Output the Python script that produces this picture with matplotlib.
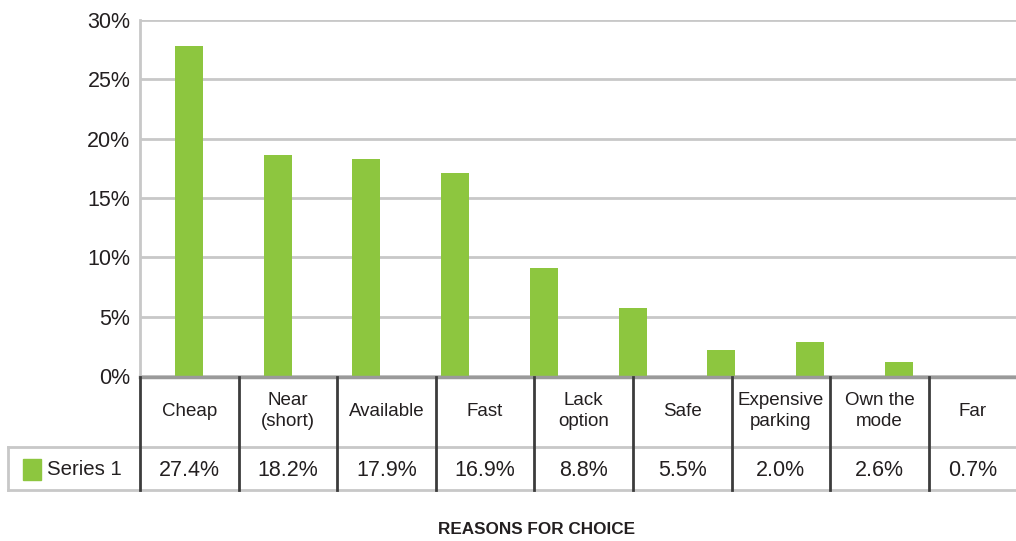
import matplotlib
matplotlib.use("Agg")
import matplotlib.pyplot as plt
from matplotlib.patches import Rectangle

# data
categories = ["Cheap", "Near\n(short)", "Available", "Fast", "Lack\noption",
              "Safe", "Expensive\nparking", "Own the\nmode", "Far"]
bar_values = [27.8, 18.6, 18.3, 17.1, 9.1, 5.7, 2.2, 2.9, 1.2]
table_values = ["27.4%", "18.2%", "17.9%", "16.9%", "8.8%", "5.5%", "2.0%", "2.6%", "0.7%"]
yticks = [0, 5, 10, 15, 20, 25, 30]
series_name = "Series 1"
xlabel = "REASONS FOR CHOICE"

GREEN = "#8dc63f"
TEXT = "#231f20"
LIGHT = "#c8c8c8"
DARK = "#3c3c3c"
plt.rcParams["font.family"] = ["Liberation Sans", "DejaVu Sans"]

W, H = 1016, 541
fig = plt.figure(figsize=(W / 100, H / 100), dpi=100)

# bar plot area (pixels converted to figure fractions)
left, right, top, bottom = 140, 1016, 20, 376
ax = fig.add_axes([left / W, 1 - bottom / H, (right - left) / W, (bottom - top) / H])
x = list(range(len(bar_values)))
ax.bar(x, bar_values, width=0.315, color=GREEN, zorder=3)
ax.set_xlim(-0.55, 9.32)
ax.set_ylim(0, 30)
ax.set_yticks(yticks)
ax.set_yticklabels([f"{v}%" for v in yticks], fontsize=15.5, color=TEXT)
ax.tick_params(axis="y", length=0, pad=7)
ax.set_xticks([])
ax.grid(axis="y", color=LIGHT, linewidth=2, zorder=0)
for s in ["top", "right", "bottom"]:
    ax.spines[s].set_visible(False)
ax.spines["left"].set_color(LIGHT)
ax.spines["left"].set_linewidth(2)

# data table drawn in pixel coordinates on an overlay
ov = fig.add_axes([0, 0, 1, 1])
ov.set_xlim(0, W)
ov.set_ylim(H, 0)
ov.axis("off")

col_w = 98.6
edges = [left + col_w * i for i in range(len(categories) + 1)]
head_top, head_bot, row_bot = 377, 447, 490
series_left = 8

# horizontal lines
ov.plot([left, W], [head_top, head_top], color="#9a9a9a", lw=2.5)
ov.plot([series_left, W], [head_bot, head_bot], color=LIGHT, lw=2)
ov.plot([series_left, W], [row_bot, row_bot], color=LIGHT, lw=2)
ov.plot([series_left, series_left], [head_bot, row_bot], color=LIGHT, lw=2)
# vertical column separators
for e in edges[:-1]:
    ov.plot([e, e], [head_top, row_bot], color=DARK, lw=2)

for i, (cat, val) in enumerate(zip(categories, table_values)):
    cx = (edges[i] + min(edges[i + 1], W)) / 2
    ov.text(cx, (head_top + head_bot) / 2 - 1, cat, ha="center", va="center",
            fontsize=13.5, color=TEXT, linespacing=1.35)
    ov.text(cx, (head_bot + row_bot) / 2 + 2, val, ha="center", va="center",
            fontsize=15.5, color=TEXT)

# legend key in the series cell
ov.add_patch(Rectangle((23, 459), 18, 21, color=GREEN))
ov.text(47, (head_bot + row_bot) / 2 + 1, series_name, ha="left", va="center",
        fontsize=14.7, color=TEXT)

ov.text(537, 530, xlabel, ha="center", va="center", fontsize=12.3,
        fontweight="bold", color=TEXT)

fig.savefig("out.png", dpi=100, facecolor="white")
